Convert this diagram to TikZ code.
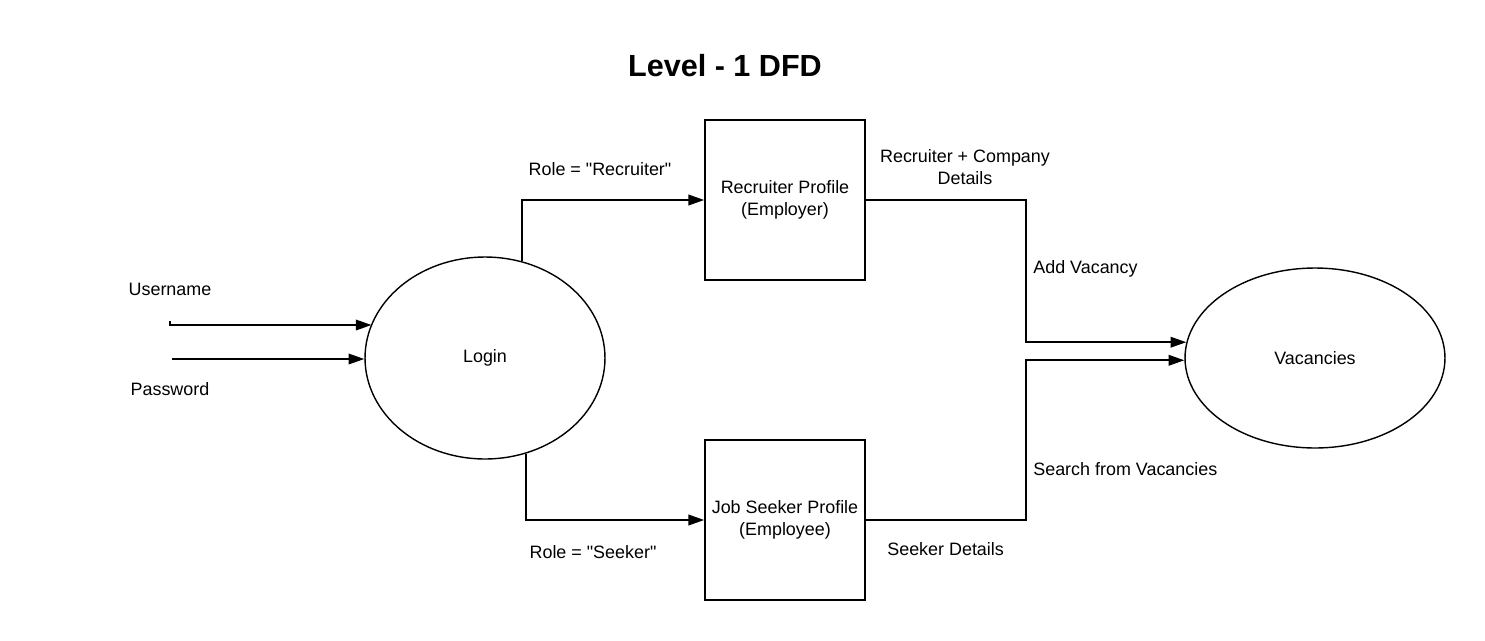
\documentclass[tikz,border=0pt]{standalone}
\usepackage{fontspec}
\setmainfont{Liberation Sans}[Ligatures=TeXOff]
\usepackage{tikz}
\usetikzlibrary{positioning}
\usetikzlibrary{shapes.geometric,arrows.meta}
\tikzstyle{line} = [draw, line width=1.1pt, -{Triangle[length=9pt,width=6pt]}]
\tikzstyle{process} = [draw, ellipse, line width=0.8pt, inner sep=0pt, font=\fontsize{10.2}{12.5}\selectfont]
\tikzstyle{entity} = [draw, rectangle, line width=0.9pt, minimum width=3.2cm, minimum height=3.2cm, inner sep=0pt, align=center, font=\fontsize{10.2}{12.5}\selectfont]
\tikzstyle{lbl} = [inner sep=0pt, align=center, font=\fontsize{10.2}{12.5}\selectfont]

\begin{document}
\begin{tikzpicture}[x=0.02cm, y=-0.02cm]
	\useasboundingbox (0, 0) rectangle (1485, 640);
	\node[font=\bfseries\fontsize{17.4}{20}\selectfont] (title) at (725, 66) {Level - 1 DFD};

	% processes and profiles
	\node[process, minimum width=4.8cm, minimum height=4.04cm] (login) at (485, 358) {Login};
	\node[process, minimum width=5.2cm, minimum height=3.6cm] (vac) at (1315, 358) {Vacancies};
	\node[entity] (rec) at (785, 200) {\raisebox{2pt}{Recruiter Profile}\\\raisebox{2pt}{(Employer)}};
	\node[entity] (seek) at (785, 520) {Job Seeker Profile\\(Employee)};

	% inputs
	\coordinate (user) at (170, 321);
	\coordinate (pass) at (172, 359);
	\draw[line] (user) -- ++(0, 4) coordinate (usr2) -- (login.163.8 |- usr2);
	\draw[line] (pass) -- (login.180 |- pass);
	\node[lbl] (userlbl) at (170, 289) {Username};
	\node[lbl] (passlbl) at (170, 389) {Password};

	% flows
	\draw[line] (login.69) |- (rec.west);
	\draw[line] (login.293) |- (seek.west);
	\draw[line] (rec.east) -- ++(160, 0) |- (vac.173.3);
	\draw[line] (seek.east) -- ++(160, 0) |- (vac.181);

	\node[lbl] (rolerec) at (600, 169) {Role = "Recruiter"};
	\node[lbl] (roleseek) at (593, 552) {Role = "Seeker"};
	\node[lbl] (recdet) at (965, 167) {Recruiter + Company\\Details};
	\node[lbl, anchor=west] (addvac) at (1033, 269) {Add Vacancy};
	\node[lbl, anchor=west] (search) at (1033, 469) {Search from Vacancies};
	\node[lbl, anchor=west] (seekdet) at (887, 549) {Seeker Details};
\end{tikzpicture}
\end{document}
